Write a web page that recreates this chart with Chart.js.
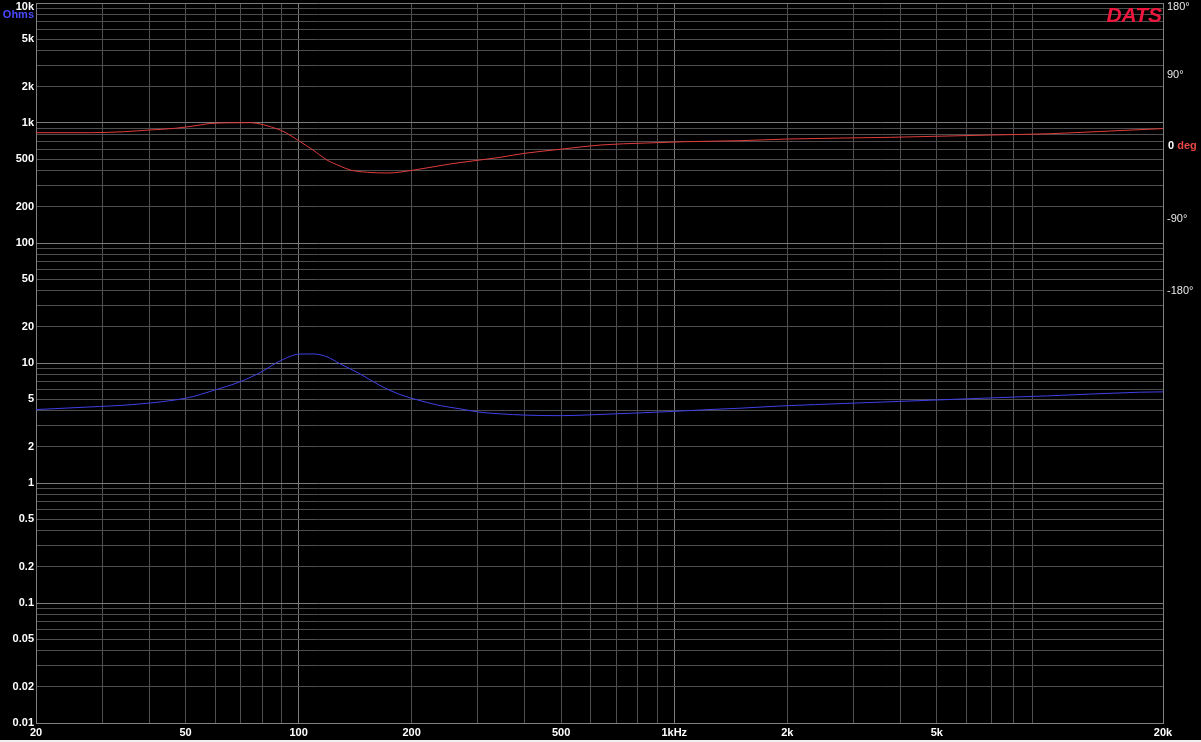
<!DOCTYPE html>
<html>
<head>
<meta charset="utf-8">
<script src="https://cdn.jsdelivr.net/npm/chart.js@4.4.1/dist/chart.umd.min.js"></script>
<style>
html, body { margin: 0; padding: 0; background: #f0f0f0; }
canvas { display: block; }
</style>
</head>
<body>
<canvas id="chart" width="1201" height="740"></canvas>
<script>
// impedance magnitude (Ohms)
var impFreq = [20, 27.3, 37.3, 50.6, 54.7, 59.2, 69.8, 80, 89.2, 100.9, 109.2, 119, 128.9, 145.6, 164.7, 186.2, 210.5, 238, 269, 304, 344, 400, 500, 600, 810, 974, 1300, 1496, 1880, 3000, 4840, 7000, 9860, 17300, 20000];
var impedance = [4.09, 4.29, 4.54, 5.12, 5.46, 5.89, 6.97, 8.5, 10.4, 11.87, 11.9, 11.27, 9.85, 8.13, 6.49, 5.46, 4.86, 4.42, 4.15, 3.89, 3.77, 3.68, 3.64, 3.7, 3.84, 3.94, 4.12, 4.2, 4.37, 4.63, 4.9, 5.12, 5.32, 5.71, 5.75];

// impedance phase (degrees)
var phaseFreq = [20, 28, 34.2, 40, 47, 54.7, 57.9, 65, 74, 77.4, 84.1, 91.4, 101, 109.2, 119, 128.9, 137.3, 152.6, 173, 203, 253, 304, 344, 400, 505, 636, 843, 1058, 1496, 2016, 3765, 7000, 9980, 14500, 20000];
var phase = [17.9, 17.9, 19.1, 21.25, 23.4, 27.5, 29.3, 30.2, 30.4, 29.6, 25.4, 19.1, 6.6, -3.75, -16.25, -23.75, -28.75, -31.6, -32.5, -28.75, -21.25, -16.25, -12.9, -7.9, -2.5, 2.5, 5, 6.6, 7.9, 10, 12.1, 15, 16.6, 20, 23];

// tick labels
var freqLabels = {20: '20', 50: '50', 100: '100', 200: '200', 500: '500', 1000: '1kHz', 2000: '2k', 5000: '5k', 10000: '10k', 20000: '20k'};
var ohmLabels = {10000: '10k', 5000: '5k', 2000: '2k', 1000: '1k', 500: '500', 200: '200', 100: '100', 50: '50', 20: '20', 10: '10', 5: '5', 2: '2', 1: '1', 0.5: '0.5', 0.2: '0.2', 0.1: '0.1', 0.05: '0.05', 0.02: '0.02', 0.01: '0.01'};
var phaseTicks = [-180, -90, 0, 90, 180];
var phaseLabels = {'-180': '-180°', '-90': '-90°', '90': '90°'};

function logTicks(minExp, maxExp, last) {
    var out = [];
    for (var e = minExp; e < maxExp; e++) {
        for (var m = 1; m < 10; m++) {
            out.push({value: Number((m * Math.pow(10, e)).toPrecision(3))});
        }
    }
    out.push({value: last});
    return out;
}

function toPoints(xs, ys) {
    return xs.map(function(x, i) { return {x: x, y: ys[i]}; });
}

function isDecade(v) {
    var l = Math.log10(v);
    return Math.abs(l - Math.round(l)) < 1e-6;
}

var tickFont = {family: 'Arial, "Liberation Sans"', size: 11, weight: 'bold'};

var extras = {
    id: 'extras',
    beforeDraw: function(chart) {
        var c = chart.ctx;
        c.save();
        c.fillStyle = '#000';
        c.fillRect(0, 0, chart.width, chart.height);
        c.restore();
    },
    afterDraw: function(chart) {
        var c = chart.ctx;
        var area = chart.chartArea;
        var yl = chart.scales.y;
        var yr = chart.scales.y1;
        c.save();
        c.textBaseline = 'middle';

        // top left label and unit
        c.font = 'bold 11px Arial, "Liberation Sans"';
        c.textAlign = 'right';
        c.fillStyle = '#ffffff';
        c.fillText('10k', area.left - 2, yl.getPixelForValue(10000) + 4);
        c.fillStyle = '#4a4aff';
        c.fillText('Ohms', area.left - 2, yl.getPixelForValue(10000) + 12);

        // right axis: top label and 0 deg
        c.textAlign = 'left';
        c.font = '11px Arial, "Liberation Sans"';
        c.fillStyle = '#e8e8e8';
        c.fillText('180°', area.right + 4, yr.getPixelForValue(180) + 4);
        var y0 = yr.getPixelForValue(0) - 1;
        c.font = 'bold 11px Arial, "Liberation Sans"';
        c.fillStyle = '#ffffff';
        c.fillText('0', area.right + 5, y0);
        var w = c.measureText('0 ').width;
        c.fillStyle = '#e84848';
        c.fillText('deg', area.right + 5 + w, y0);

        // brand
        c.font = 'italic bold 21px Arial, "Liberation Sans"';
        c.textAlign = 'right';
        c.textBaseline = 'alphabetic';
        c.fillStyle = '#f0173f';
        c.fillText('DATS', area.right - 1, area.top + 19);
        c.restore();
    }
};

var ctx = document.getElementById('chart').getContext('2d');
var chart = new Chart(ctx, {
    type: 'line',
    data: {
        datasets: [
            {
                label: 'Impedance',
                data: toPoints(impFreq, impedance),
                borderColor: '#4040e8',
                borderWidth: 1,
                pointRadius: 0,
                cubicInterpolationMode: 'monotone',
                yAxisID: 'y'
            },
            {
                label: 'Phase',
                data: toPoints(phaseFreq, phase),
                borderColor: '#e03c3c',
                borderWidth: 1,
                pointRadius: 0,
                cubicInterpolationMode: 'monotone',
                yAxisID: 'y1'
            }
        ]
    },
    options: {
        responsive: false,
        animation: false,
        layout: {padding: {top: 3, left: 0, right: 0, bottom: 0}},
        plugins: {
            legend: {display: false},
            tooltip: {enabled: false}
        },
        scales: {
            x: {
                type: 'logarithmic',
                min: 20,
                max: 20000,
                afterBuildTicks: function(s) { s.ticks = logTicks(1, 4, 20000).filter(function(t) { return t.value >= 20; }); },
                afterFit: function(s) { s.height = 17; s.paddingLeft = 0; s.paddingRight = 0; },
                grid: {
                    color: function(c) { return c.tick && isDecade(c.tick.value) ? '#7a7a7a' : '#4e4e4e'; },
                    drawTicks: false
                },
                border: {color: '#808080'},
                ticks: {
                    autoSkip: false,
                    maxRotation: 0,
                    padding: 3,
                    color: '#ffffff',
                    font: tickFont,
                    callback: function(v) { return freqLabels[v] || ''; }
                }
            },
            y: {
                type: 'logarithmic',
                position: 'left',
                min: 0.01,
                max: 10000,
                afterBuildTicks: function(s) { s.ticks = logTicks(-2, 4, 10000); },
                afterFit: function(s) { s.width = 36; s.paddingTop = 0; s.paddingBottom = 0; },
                grid: {
                    color: function(c) { return c.tick && isDecade(c.tick.value) ? '#7a7a7a' : '#4e4e4e'; },
                    drawTicks: false
                },
                border: {color: '#808080'},
                ticks: {
                    autoSkip: false,
                    padding: 2,
                    color: '#ffffff',
                    font: tickFont,
                    callback: function(v) { return v === 10000 ? '' : (ohmLabels[v] || ''); }
                }
            },
            y1: {
                type: 'linear',
                position: 'right',
                min: -720,
                max: 180,
                afterBuildTicks: function(s) { s.ticks = phaseTicks.map(function(v) { return {value: v}; }); },
                afterFit: function(s) { s.width = 38; s.paddingTop = 0; s.paddingBottom = 0; },
                grid: {display: false, drawTicks: false},
                border: {color: '#808080'},
                ticks: {
                    autoSkip: false,
                    padding: 4,
                    color: '#e8e8e8',
                    font: {family: 'Arial, "Liberation Sans"', size: 11},
                    callback: function(v) { return phaseLabels[String(v)] || ''; }
                }
            }
        }
    },
    plugins: [extras]
});
</script>
</body>
</html>
